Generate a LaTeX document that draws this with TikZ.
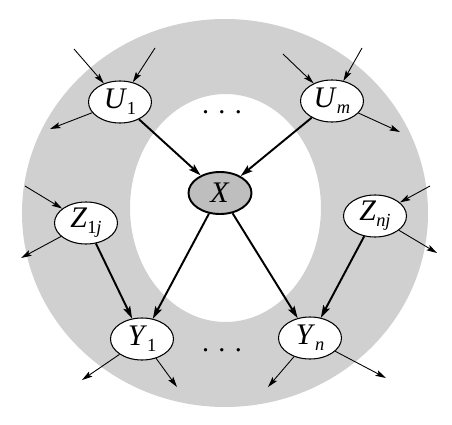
\documentclass[tikz,border=0pt]{standalone}
\usepackage{fontspec}
\setmainfont{Liberation Serif}
\newfontfamily\lblfont{Liberation Serif}
\usepackage{tikz}
\usetikzlibrary{shapes.geometric,arrows.meta,positioning}
\definecolor{ringgray}{RGB}{208,208,208}
\definecolor{xgray}{RGB}{190,190,190}
\newcommand{\vlab}[2]{\textit{#1}\raisebox{-0.45ex}{\fontsize{10.5}{10.5}\selectfont #2}}

\begin{document}
\begin{tikzpicture}[
        var/.style={draw=black, line width=0.6pt, fill=white, ellipse, inner sep=0pt, minimum width=1.26cm, minimum height=0.84cm, font=\lblfont\fontsize{17}{19}\selectfont},
        xvar/.style={var, fill=xgray, line width=1.1pt},
        thinarr/.style={line width=0.5pt, -{Stealth[length=6pt, width=3.4pt, inset=1.2pt]}},
        arr/.style={line width=1.1pt, -{Stealth[length=7pt, width=4.2pt, inset=1.4pt]}}
    ]
        \useasboundingbox (0,0) rectangle (9.04,8.48);

        % Ring
        \begin{scope}
            \clip (0,0.34) rectangle (9.04,8.48);
            \fill[ringgray, even odd rule] (4.50,4.22) ellipse [x radius=4.06cm, y radius=3.88cm]
                (4.51,4.32) ellipse [x radius=1.91cm, y radius=2.28cm];
        \end{scope}

        % Nodes
        \node[var] (U1) at (2.40, 6.44) {\vlab{U}{1}};
        \node[var] (Um) at (6.64, 6.46) {\vlab{U}{\textit{m}}};
        \node[xvar] (X) at (4.40, 4.62) {\textit{X}};
        \node[var] (Z1) at (1.72, 4.02) {\vlab{Z}{1\textit{j}}};
        \node[var] (Zn) at (7.50, 4.16) {\vlab{Z}{\textit{nj}}};
        \node[var] (Y1) at (2.84, 1.70) {\vlab{Y}{1}};
        \node[var] (Yn) at (6.20, 1.72) {\vlab{Y}{\textit{n}}};

        \node[font=\lblfont\fontsize{16}{18}\selectfont] (topdots) at (4.44, 6.24) {.\,\,.\,\,.};
        \node[font=\lblfont\fontsize{16}{18}\selectfont] (botdots) at (4.44, 1.48) {.\,\,.\,\,.};

        % Free ends
        \coordinate (u1in1) at (1.48, 7.50);
        \coordinate (u1in2) at (3.10, 7.52);
        \coordinate (u1out) at (1.00, 5.90);
        \coordinate (umin1) at (5.66, 7.40);
        \coordinate (umin2) at (7.24, 7.52);
        \coordinate (umout) at (8.00, 5.84);
        \coordinate (z1in) at (0.50, 4.76);
        \coordinate (z1out) at (0.42, 3.32);
        \coordinate (znin) at (8.60, 4.76);
        \coordinate (znout) at (8.74, 3.42);
        \coordinate (y1out1) at (1.64, 0.88);
        \coordinate (y1out2) at (3.54, 0.74);
        \coordinate (ynout1) at (5.36, 0.74);
        \coordinate (ynout2) at (7.72, 0.92);

        % Connectors
        \draw[arr] (U1) -- (X);
        \draw[arr] (Um) -- (X);
        \draw[arr] (X) -- (Y1);
        \draw[arr] (X) -- (Yn);
        \draw[arr] (Z1) -- (Y1);
        \draw[arr] (Zn) -- (Yn);

        \draw[thinarr] (u1in1) -- (U1);
        \draw[thinarr] (u1in2) -- (U1);
        \draw[thinarr] (U1) -- (u1out);
        \draw[thinarr] (umin1) -- (Um);
        \draw[thinarr] (umin2) -- (Um);
        \draw[thinarr] (Um) -- (umout);
        \draw[thinarr] (z1in) -- (Z1);
        \draw[thinarr] (Z1) -- (z1out);
        \draw[thinarr] (znin) -- (Zn);
        \draw[thinarr] (Zn) -- (znout);
        \draw[thinarr] (Y1) -- (y1out1);
        \draw[thinarr] (Y1) -- (y1out2);
        \draw[thinarr] (Yn) -- (ynout1);
        \draw[thinarr] (Yn) -- (ynout2);
    \end{tikzpicture}
\end{document}
